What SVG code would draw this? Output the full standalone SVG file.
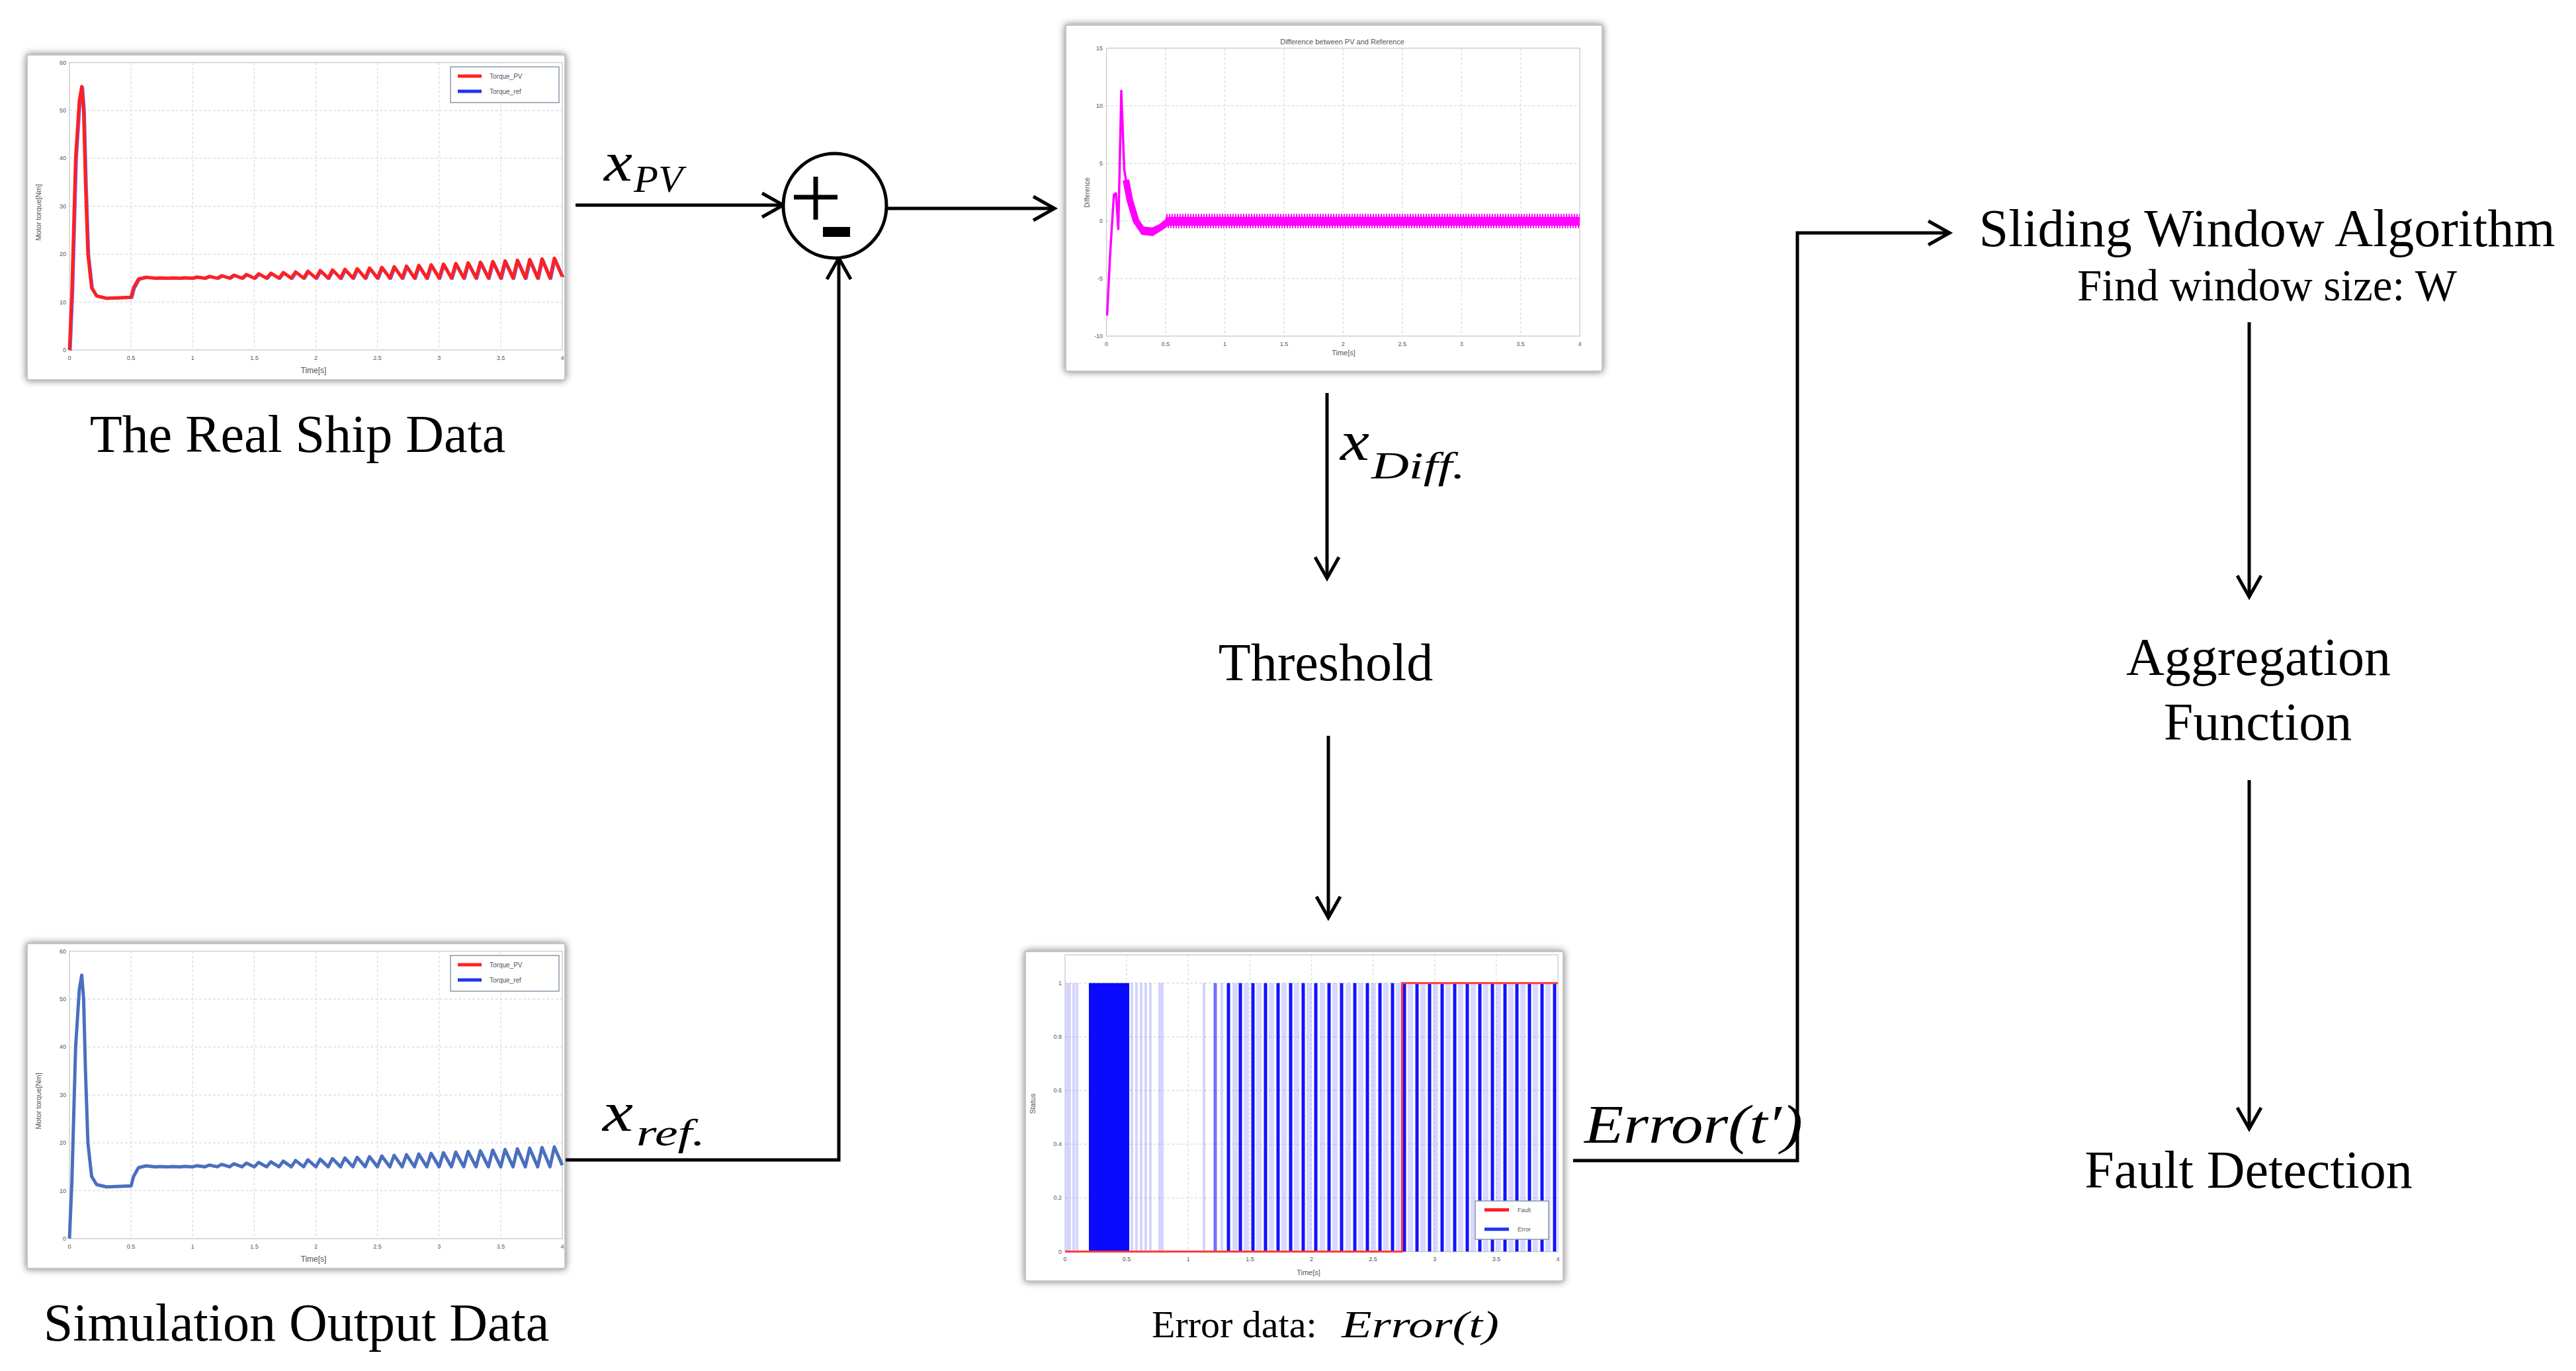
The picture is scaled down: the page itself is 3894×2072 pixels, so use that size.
<svg xmlns="http://www.w3.org/2000/svg" width="3894" height="2072" viewBox="0 0 3894 2072">
<style>
.t{font-family:"Liberation Serif","Times New Roman",serif;fill:#000}
.big{font-size:80px}
.m{font-family:"Liberation Serif","Times New Roman",serif;font-style:italic;fill:#000}
.ax{font-family:"Liberation Sans",Arial,sans-serif;fill:#555}
.grid{stroke:#e0e0e0;stroke-width:1.5;stroke-dasharray:4 3;fill:none}
.box{fill:none;stroke:#d0d0d0;stroke-width:1.5}
.frame{fill:#fff;stroke:#c4c4c4;stroke-width:2}
.conn{fill:none;stroke:#000;stroke-width:5}
.pale{stroke:#3b3bff;stroke-opacity:0.22;stroke-width:4}
.band{stroke:#3b3bff;stroke-opacity:0.2;stroke-width:8}
.dark{stroke:#1212ff;stroke-width:5}
</style>
<defs>
<filter id="sh" x="-5%" y="-5%" width="110%" height="110%">
<feGaussianBlur in="SourceAlpha" stdDeviation="6"/>
<feOffset dx="0" dy="0" result="b"/>
<feComponentTransfer><feFuncA type="linear" slope="0.55"/></feComponentTransfer>
<feMerge><feMergeNode/><feMergeNode in="SourceGraphic"/></feMerge>
</filter>
<marker id="ah" markerUnits="userSpaceOnUse" markerWidth="60" markerHeight="60" viewBox="-40 -30 60 60" refX="0" refY="0" orient="auto">
<path d="M-32,-18 L0,0 L-32,18" fill="none" stroke="#000" stroke-width="5"/>
</marker>
<pattern id="zz" patternUnits="userSpaceOnUse" x="0" y="321" width="4" height="26">
<path d="M0,2 L2,24 L4,2" fill="none" stroke="#ff00ff" stroke-width="1.6"/>
</pattern>
<path id="torque" fill="none" stroke-linejoin="round" d="M105,529 L108.7,442.1 L114.3,239.3 L119.9,152.4 L123.6,130.7 L126.4,166.9 L129.2,275.5 L132.9,384.2 L138.5,434.9 L146,447.2 L160.9,450.8 L180,450 L198.1,449.3 L201.9,434.9 L209.3,421.8 L220.5,419 L235.4,420.4 L241.9,420 L254,420.4 L260.5,420 L272.6,420.4 L279.1,419.7 L291.3,420.4 L297.8,418.7 L309.9,420.4 L316.4,417.7 L328.5,420.4 L335,416.7 L347.1,420.4 L353.6,415.8 L365.8,420.4 L372.3,414.8 L384.4,420.4 L390.9,413.8 L403,420.4 L409.5,412.8 L421.6,420.4 L428.1,411.9 L440.3,420.4 L446.8,410.9 L458.9,420.4 L465.4,409.9 L477.5,420.4 L484,408.9 L496.1,420.4 L502.6,408 L514.8,420.4 L521.3,407 L533.4,420.4 L539.9,406 L552,420.4 L558.5,405 L570.6,420.4 L577.1,404 L589.3,420.4 L595.8,403.1 L607.9,420.4 L614.4,402.1 L626.5,420.4 L633,401.1 L645.1,420.4 L651.6,400.1 L663.8,420.4 L670.3,399.1 L682.4,420.4 L688.9,398.2 L701,420.4 L707.5,397.2 L719.6,420.4 L726.1,396.2 L738.3,420.4 L744.8,395.2 L756.9,420.4 L763.4,394.3 L775.5,420.4 L782,393.3 L794.1,420.4 L800.6,392.3 L812.8,420.4 L819.3,391.3 L831.4,420.4 L837.9,390.3 L850,418"/>
<g id="torqueAxes">
<rect class="frame" x="41" y="83" width="813" height="491" filter="url(#sh)"/>
<g class="grid">
<path d="M198.1,94.5V529M291.3,94.5V529M384.4,94.5V529M477.5,94.5V529M570.6,94.5V529M663.8,94.5V529M756.9,94.5V529"/>
<path d="M105,456.6H850M105,384.2H850M105,311.7H850M105,239.3H850M105,166.9H850"/>
</g>
<rect class="box" x="105" y="94.5" width="745" height="434.5"/>
<g class="ax" font-size="9" text-anchor="middle">
<text x="105" y="544">0</text><text x="198.1" y="544">0.5</text><text x="291.3" y="544">1</text><text x="384.4" y="544">1.5</text><text x="477.5" y="544">2</text><text x="570.6" y="544">2.5</text><text x="663.8" y="544">3</text><text x="756.9" y="544">3.5</text><text x="850" y="544">4</text>
</g>
<g class="ax" font-size="9" text-anchor="end">
<text x="100" y="532">0</text><text x="100" y="459.6">10</text><text x="100" y="387.2">20</text><text x="100" y="314.7">30</text><text x="100" y="242.3">40</text><text x="100" y="169.9">50</text><text x="100" y="97.5">60</text>
</g>
<text class="ax" font-size="12" x="474" y="564" text-anchor="middle">Time[s]</text>
<text class="ax" font-size="11" transform="translate(62,321) rotate(-90)" text-anchor="middle">Motor torque[Nm]</text>
<rect x="681" y="101" width="164" height="54" fill="#fff" stroke="#8899aa" stroke-width="1.5"/>
<path d="M692,115H728" stroke="#ff2222" stroke-width="5"/>
<path d="M692,138H728" stroke="#2233ee" stroke-width="5"/>
<text class="ax" font-size="10" x="740" y="119">Torque_PV</text>
<text class="ax" font-size="10" x="740" y="142">Torque_ref</text>
</g>
</defs>

<g id="connectors" class="conn">
<path d="M870,310 H1184" marker-end="url(#ah)"/>
<path d="M1341,315 H1594" marker-end="url(#ah)"/>
<path d="M854,1753 H1268 V390" marker-end="url(#ah)"/>
<path d="M2006,594 V874" marker-end="url(#ah)"/>
<path d="M2008,1112 V1387" marker-end="url(#ah)"/>
<path d="M2378,1754 H2717 V352 H2947" marker-end="url(#ah)"/>
<path d="M3400,487 V902" marker-end="url(#ah)"/>
<path d="M3400,1179 V1706" marker-end="url(#ah)"/>
</g>

<g id="real-ship-data">
<use href="#torqueAxes"/>
<use href="#torque" stroke="#6a6aff" stroke-width="3" transform="translate(2,1)"/>
<use href="#torque" stroke="#ff2020" stroke-width="5"/>
<text class="t big" x="450" y="683" text-anchor="middle">The Real Ship Data</text>
</g>

<g id="simulation-output-data">
<use href="#torqueAxes" transform="translate(0,1343)"/>
<use href="#torque" stroke="#4a6fc0" stroke-width="5" transform="translate(0,1343)"/>
<text class="t big" x="448" y="2026" text-anchor="middle">Simulation Output Data</text>
</g>

<g id="label-xpv">
<text class="m" font-size="84" x="913" y="273" textLength="43" lengthAdjust="spacingAndGlyphs">x</text>
<text class="m" font-size="58" x="958" y="290" textLength="74" lengthAdjust="spacingAndGlyphs">PV</text>
</g>
<g id="label-xref">
<text class="m" font-size="84" x="911" y="1709" textLength="46" lengthAdjust="spacingAndGlyphs">x</text>
<text class="m" font-size="58" x="962" y="1731" textLength="104" lengthAdjust="spacingAndGlyphs">ref.</text>
</g>

<g id="summing-junction">
<ellipse cx="1262" cy="311" rx="78" ry="79" fill="#fff" stroke="#000" stroke-width="5"/>
<path d="M1200,298H1266M1233,267V332" stroke="#000" stroke-width="7"/>
<rect x="1244" y="343" width="41" height="15" fill="#000"/>
</g>

<g id="difference-plot">
<rect class="frame" x="1611" y="38" width="811" height="523" filter="url(#sh)"/>
<g class="grid">
<path d="M1762,72.8V508M1851.5,72.8V508M1940.9,72.8V508M2030.3,72.8V508M2119.8,72.8V508M2209.2,72.8V508M2298.6,72.8V508"/>
<path d="M1672.6,159.8H2388M1672.6,247H2388M1672.6,334H2388M1672.6,421H2388"/>
</g>
<rect class="box" x="1672.6" y="72.8" width="715.4" height="435.2"/>
<text class="ax" font-size="11" x="2029" y="67" text-anchor="middle">Difference between PV and Reference</text>
<g class="ax" font-size="9" text-anchor="middle">
<text x="1672.6" y="523">0</text><text x="1762" y="523">0.5</text><text x="1851.5" y="523">1</text><text x="1940.9" y="523">1.5</text><text x="2030.3" y="523">2</text><text x="2119.8" y="523">2.5</text><text x="2209.2" y="523">3</text><text x="2298.6" y="523">3.5</text><text x="2388" y="523">4</text>
</g>
<g class="ax" font-size="9" text-anchor="end">
<text x="1667" y="76">15</text><text x="1667" y="163">10</text><text x="1667" y="250">5</text><text x="1667" y="337">0</text><text x="1667" y="424">-5</text><text x="1667" y="511">-10</text>
</g>
<text class="ax" font-size="11" x="2031" y="537" text-anchor="middle">Time[s]</text>
<text class="ax" font-size="10" transform="translate(1647,291) rotate(-90)" text-anchor="middle">Difference</text>
<rect x="1762" y="321" width="626" height="26" fill="url(#zz)"/>
<rect x="1762" y="328" width="626" height="13" fill="#ff00ff"/>
<path d="M1702,272 L1708,303 L1717.3,334 L1726.3,347 L1742.4,349 L1755,343 L1766,334" fill="none" stroke="#ff00ff" stroke-width="10" stroke-linejoin="round"/>
<path d="M1673.5,476.8 L1678,386.2 L1683.8,294 L1686.9,292.2 L1690.5,346.2 L1695,137.3 L1699.4,255.7 L1706.6,299.2 L1717.3,334 L1726.3,353.2 L1742.4,354.9 L1755,347 L1762,342 L1765.6,334" fill="none" stroke="#ff00ff" stroke-width="3.5" stroke-linejoin="round"/>
</g>

<g id="label-xdiff">
<text class="m" font-size="84" x="2026" y="695" textLength="44" lengthAdjust="spacingAndGlyphs">x</text>
<text class="m" font-size="58" x="2073" y="723" textLength="142" lengthAdjust="spacingAndGlyphs">Diff.</text>
</g>

<g id="threshold">
<text class="t big" x="2004" y="1028" text-anchor="middle">Threshold</text>
</g>

<g id="error-data">
<rect class="frame" x="1550" y="1438" width="813" height="498" filter="url(#sh)"/>
<g class="grid">
<path d="M1703.1,1443V1891.6M1796.3,1443V1891.6M1889.4,1443V1891.6M1982.5,1443V1891.6M2075.6,1443V1891.6M2168.8,1443V1891.6M2261.9,1443V1891.6"/>
<path d="M1610,1810.4H2355M1610,1729.2H2355M1610,1648.1H2355M1610,1566.9H2355M1610,1485.7H2355"/>
</g>
<rect class="box" x="1610" y="1443" width="745" height="448.6"/>
<g class="pale">
<path d="M1613,1485.7V1891.6M1617,1485.7V1891.6M1623,1485.7V1891.6M1628,1485.7V1891.6M1711,1485.7V1891.6M1718,1485.7V1891.6M1725,1485.7V1891.6M1732,1485.7V1891.6M1739,1485.7V1891.6M1753,1485.7V1891.6M1757,1485.7V1891.6M1820,1485.7V1891.6M1847,1485.7V1891.6"/>
</g>
<g class="band">
<path d="M1867,1485.7V1891.6M1884,1485.7V1891.6M1903,1485.7V1891.6M1922,1485.7V1891.6M1941,1485.7V1891.6M1960,1485.7V1891.6M1979,1485.7V1891.6M1999,1485.7V1891.6M2018,1485.7V1891.6M2038,1485.7V1891.6M2057,1485.7V1891.6M2076,1485.7V1891.6M2095,1485.7V1891.6M2114,1485.7V1891.6M2132,1485.7V1891.6M2151,1485.7V1891.6M2170,1485.7V1891.6M2189,1485.7V1891.6M2208,1485.7V1891.6M2227,1485.7V1891.6M2246,1485.7V1891.6M2265,1485.7V1891.6M2284,1485.7V1891.6M2302,1485.7V1891.6M2321,1485.7V1891.6M2340,1485.7V1891.6"/>
</g>
<rect x="1646" y="1485.7" width="61" height="405.9" fill="#0a0aff"/>
<g class="dark">
<path d="M1837,1485.7V1891.6" stroke-opacity="0.6"/>
<path d="M1857,1485.7V1891.6M1875,1485.7V1891.6M1894,1485.7V1891.6M1913,1485.7V1891.6M1932,1485.7V1891.6M1951,1485.7V1891.6M1970,1485.7V1891.6M1989,1485.7V1891.6M2009,1485.7V1891.6M2028,1485.7V1891.6M2048,1485.7V1891.6M2067,1485.7V1891.6M2086,1485.7V1891.6M2105,1485.7V1891.6M2123,1485.7V1891.6M2142,1485.7V1891.6M2161,1485.7V1891.6M2180,1485.7V1891.6M2199,1485.7V1891.6M2218,1485.7V1891.6M2237,1485.7V1891.6M2256,1485.7V1891.6M2275,1485.7V1891.6M2293,1485.7V1891.6M2312,1485.7V1891.6M2331,1485.7V1891.6M2350,1485.7V1891.6"/>
</g>
<path d="M1610,1891.6H2119.5V1485.7H2355" fill="none" stroke="#ff3b3b" stroke-width="3"/>
<g class="ax" font-size="9" text-anchor="middle">
<text x="1610" y="1906">0</text><text x="1703.1" y="1906">0.5</text><text x="1796.3" y="1906">1</text><text x="1889.4" y="1906">1.5</text><text x="1982.5" y="1906">2</text><text x="2075.6" y="1906">2.5</text><text x="2168.8" y="1906">3</text><text x="2261.9" y="1906">3.5</text><text x="2355" y="1906">4</text>
</g>
<g class="ax" font-size="9" text-anchor="end">
<text x="1605" y="1894.6">0</text><text x="1605" y="1813.4">0.2</text><text x="1605" y="1732.2">0.4</text><text x="1605" y="1651.1">0.6</text><text x="1605" y="1569.9">0.8</text><text x="1605" y="1488.7">1</text>
</g>
<text class="ax" font-size="11" x="1978" y="1927" text-anchor="middle">Time[s]</text>
<text class="ax" font-size="11" transform="translate(1565,1668) rotate(-90)" text-anchor="middle">Status</text>
<rect x="2230" y="1815" width="111" height="58" fill="#fff" stroke="#8899aa" stroke-width="1.5"/>
<path d="M2244,1828.6H2281" stroke="#ff2222" stroke-width="5"/>
<path d="M2244,1857.7H2281" stroke="#2233ee" stroke-width="5"/>
<text class="ax" font-size="9" x="2294" y="1832">Fault</text>
<text class="ax" font-size="9" x="2294" y="1861">Error</text>
<text class="t" font-size="58" x="1741" y="2021">Error data:</text>
<text class="m" font-size="58" x="2028" y="2021" textLength="238" lengthAdjust="spacingAndGlyphs">Error(t)</text>
</g>

<g id="label-error-tprime">
<text class="m" font-size="83" x="2395" y="1727" textLength="330" lengthAdjust="spacingAndGlyphs">Error(t′)</text>
</g>

<g id="sliding-window">
<text class="t big" x="3427" y="372" text-anchor="middle">Sliding Window Algorithm</text>
<text class="t" font-size="67" x="3427" y="454" text-anchor="middle">Find window size: W</text>
</g>

<g id="aggregation-function">
<text class="t big" x="3414" y="1020" text-anchor="middle">Aggregation</text>
<text class="t big" x="3413" y="1118" text-anchor="middle">Function</text>
</g>

<g id="fault-detection">
<text class="t big" x="3399" y="1795" text-anchor="middle">Fault Detection</text>
</g>
</svg>
